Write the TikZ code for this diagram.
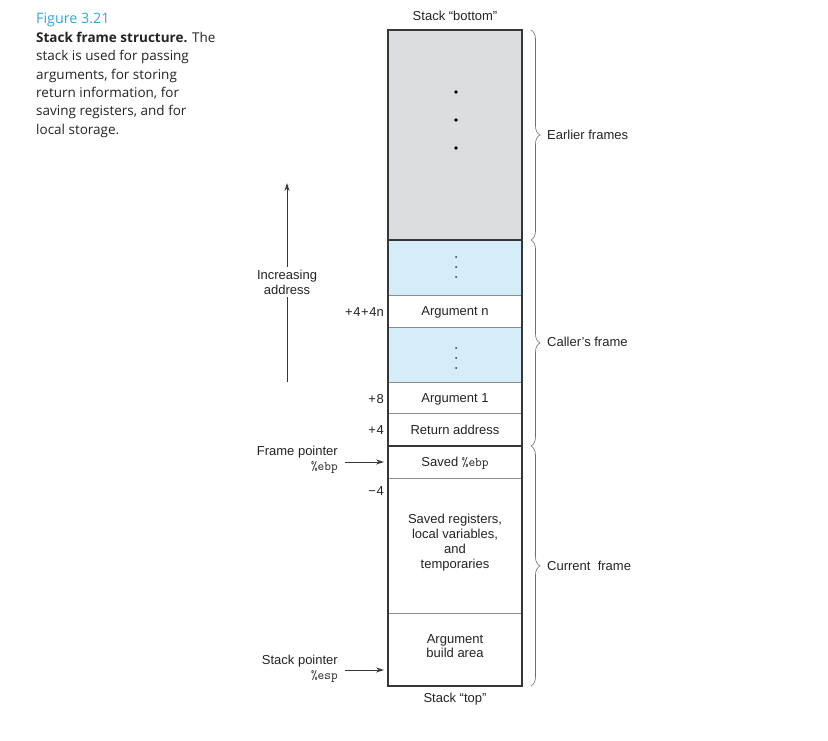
\documentclass[tikz,border=0pt]{standalone}
\usepackage{fontspec}
\setmainfont{Liberation Sans}
\newfontfamily\capfont{Open Sans}
\usetikzlibrary{arrows.meta,decorations.pathreplacing}
\definecolor{cellgray}{RGB}{220,221,222}
\definecolor{cellblue}{RGB}{212,237,249}
\definecolor{figblue}{RGB}{50,165,220}
\definecolor{edgedark}{RGB}{55,55,55}
\definecolor{edgelight}{RGB}{140,140,140}
\definecolor{txt}{RGB}{35,35,35}
\definecolor{bracecol}{RGB}{110,110,110}
\begin{document}
\begin{tikzpicture}[x=1pt,y=-1pt,
  cell/.style={draw=edgelight,line width=0.8pt,minimum width=134pt,inner sep=0pt,outer sep=0pt,
    anchor=north west,font=\fontsize{13}{15}\selectfont,text=txt,text height=9.3pt,text depth=0pt},
  lbl/.style={font=\fontsize{13}{14.8}\selectfont,text=txt,inner sep=0pt,align=center},
  offs/.style={font=\fontsize{13}{15}\selectfont,text=txt,inner sep=0pt,anchor=east},
  arr/.style={-{Stealth[length=8pt,width=5pt]},draw=edgedark,line width=0.8pt},
  framebrace/.style={decorate,decoration={brace,amplitude=9pt},draw=bracecol,line width=0.6pt},
  bigdot/.style={fill=black,draw=none},
  smalldot/.style={fill=black!80,draw=none}]
\useasboundingbox (0,0) rectangle (828,741);

% caption
\node[anchor=north west,inner sep=0pt,align=left,text=txt,
  font=\capfont\fontsize{13.5}{18.35}\selectfont] (cap) at (36,12.5)
  {\textcolor{figblue}{\fontsize{14.3}{18.35}\selectfont Figure 3.21}\\[0.8pt]
   \textbf{Stack frame structure.} The\\
   stack is used for passing\\
   arguments, for storing\\
   return information, for\\
   saving registers, and for\\
   local storage.};

% cells
\node[cell,fill=cellgray,minimum height=210pt] (gray) at (388,30) {};
\node[cell,fill=cellblue,minimum height=55pt] (blueA) at (388,240) {};
\node[cell,fill=white,minimum height=32pt] (argn) at (388,295) {Argument n};
\node[cell,fill=cellblue,minimum height=55pt] (blueB) at (388,327) {};
\node[cell,fill=white,minimum height=31pt] (arg1) at (388,382) {Argument 1};
\node[cell,fill=white,minimum height=33pt] (ret) at (388,413) {Return address};
\node[cell,fill=white,minimum height=32pt] (ebp) at (388,446) {Saved {\ttfamily\%ebp}};
\node[cell,fill=white,minimum height=135pt] (saved) at (388,478) {};
\node[cell,fill=white,minimum height=73pt] (build) at (388,613) {};

\node[lbl] (savedtxt) at (455,542.5) {Saved registers,\\local variables,\\and\\temporaries};
\node[lbl] (buildtxt) at (455,646) {Argument\\build area};

% thick outlines
\draw[edgedark,line width=1.6pt] (gray.north west) rectangle (build.south east);
\draw[edgedark,line width=1.6pt] (gray.south west) -- (gray.south east);
\draw[edgedark,line width=1.6pt] (ebp.north west) -- (ebp.north east);

% dots
\foreach \yy in {92,120,148} \fill[bigdot] (456,\yy) circle (1.8pt);
\foreach \yy in {257,267,277,348,358,368} \fill[smalldot] (456,\yy) circle (1pt);

% top/bottom labels
\node[lbl] (sbot) at (455,15.5) {Stack “bottom”};
\node[lbl] (stop) at (455,699.5) {Stack “top”};

% offsets
\node[offs] (o1) at (384,312.5) {+\kern0.6pt4\kern0.6pt+\kern0.6pt4n};
\node[offs] (o2) at (384,399.5) {+\kern0.6pt8};
\node[offs] (o3) at (384,430.5) {+\kern0.6pt4};
\node[offs] (o4) at (384,491.5) {−\kern0.6pt4};

% pointers
\node[lbl,align=right,anchor=east] (fp) at (338,460) {Frame pointer\\{\ttfamily\%ebp}};
\node[lbl,align=right,anchor=east] (sp) at (338,668.5) {Stack pointer\\{\ttfamily\%esp}};
\draw[arr,shorten >=4pt] ([xshift=7pt]fp.east |- ebp.west) -- (ebp.west);
\coordinate (spend) at (build.west |- 0,670);
\draw[arr,shorten >=4pt] ([xshift=7pt]sp.east |- spend) -- (spend);

% increasing address
\node[lbl,inner sep=3pt] (inc) at (287,282) {Increasing\\address};
\coordinate (incbot) at (287,382);
\coordinate (inctop) at (287,183);
\draw[draw=edgedark,line width=0.8pt] (incbot) -- (inc.south);
\draw[arr] (inc.north) -- (inctop);

% braces
\draw[framebrace] ([xshift=9pt]gray.north east) -- ([xshift=9pt]gray.south east);
\draw[framebrace] ([xshift=9pt]blueA.north east) -- ([xshift=9pt]ret.south east);
\draw[framebrace] ([xshift=9pt]ebp.north east) -- ([xshift=9pt]build.south east);
\node[lbl,anchor=west] (earl) at (547,134.5) {Earlier frames};
\node[lbl,anchor=west] (call) at (547,341.5) {Caller’s frame};
\node[lbl,anchor=west] (curr) at (547,565.5) {Current\ \ frame};
\end{tikzpicture}
\end{document}
